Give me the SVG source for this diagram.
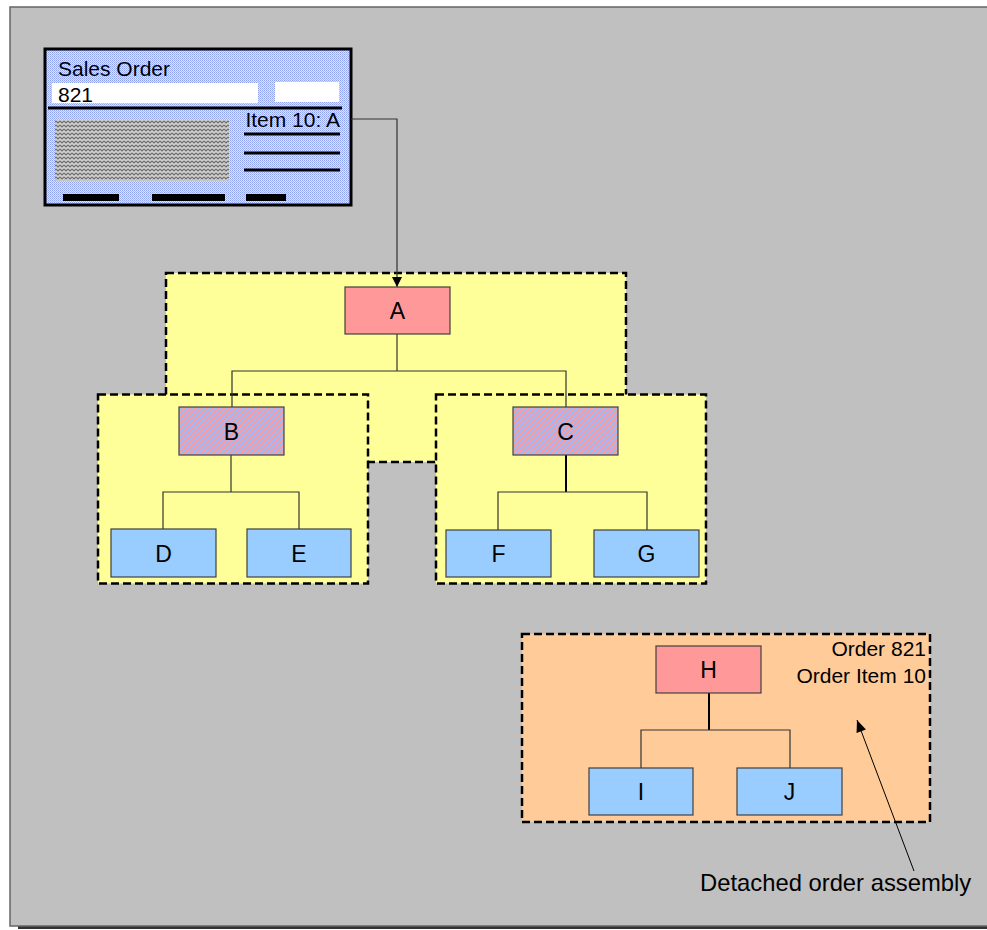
<svg xmlns="http://www.w3.org/2000/svg" width="987" height="930" viewBox="0 0 987 930">
<style>
text{font-family:"Liberation Sans",Arial,sans-serif;fill:#000}
.lbl{font-size:21px}
.nl{font-size:23px;text-anchor:middle}
.node{stroke:#404040;stroke-width:1.2}
.blue{fill:#99ccff}
.pink{fill:#ff9999}
.hatch{fill:url(#stripes)}
.cont{stroke:#000;stroke-width:2.5;stroke-dasharray:8 4}
.conn{fill:none;stroke:#333;stroke-width:1.2}
.thick{stroke:#000;stroke-width:2}
.bar{fill:#000}
</style>
<defs>
<pattern id="stripes" width="4" height="4" patternUnits="userSpaceOnUse" patternTransform="rotate(45)">
<rect width="4" height="4" fill="#ff9999"/>
<rect width="2" height="4" fill="#99bbff"/>
</pattern>
<pattern id="dots" width="2" height="2" patternUnits="userSpaceOnUse">
<rect width="2" height="2" fill="#dde4ff"/>
<rect width="1" height="1" fill="#8fa3f0"/>
<rect x="1" y="1" width="1" height="1" fill="#a8b8f5"/>
</pattern>
<pattern id="zig" width="4" height="4" patternUnits="userSpaceOnUse">
<rect width="4" height="4" fill="#cfcfcf"/>
<path d="M0,1 L2,3 L4,1" fill="none" stroke="#6e6e6e" stroke-width="1.1"/>
</pattern>
<marker id="arr" viewBox="0 0 10 10" refX="10" refY="5" markerWidth="10" markerHeight="10" markerUnits="userSpaceOnUse" orient="auto">
<path d="M0,0 L10,5 L0,10 z" fill="#000"/>
</marker>
<marker id="arr2" viewBox="0 0 12 10" refX="12" refY="5" markerWidth="13" markerHeight="10" markerUnits="userSpaceOnUse" orient="auto">
<path d="M0,0 L12,5 L0,10 z" fill="#000"/>
</marker>
</defs>

<!-- background panel -->
<rect x="18" y="14" width="980" height="915" fill="#333"/>
<rect x="10" y="7" width="990" height="919" fill="#c0c0c0" stroke="#666" stroke-width="1.5"/>

<!-- sales order form -->
<g id="sales-order">
<rect x="45" y="49" width="306" height="156" fill="url(#dots)" stroke="#000" stroke-width="3"/>
<text class="lbl" x="58" y="76">Sales Order</text>
<rect x="52" y="83" width="206" height="20" fill="#fff"/>
<rect x="275" y="82" width="64" height="20" fill="#fff"/>
<text class="lbl" x="58" y="101.5">821</text>
<rect x="48" y="106.5" width="294" height="3" fill="#000"/>
<rect x="55" y="120" width="174" height="61" fill="url(#zig)"/>
<text class="lbl" x="340" y="127" text-anchor="end">Item 10: A</text>
<rect x="244" y="132.5" width="96" height="3" fill="#000"/>
<rect x="244" y="151.5" width="96" height="3" fill="#000"/>
<rect x="244" y="168.5" width="96" height="3" fill="#000"/>
<rect class="bar" x="63" y="194" width="56" height="7"/>
<rect class="bar" x="152" y="194" width="73" height="7"/>
<rect class="bar" x="246" y="194" width="40" height="7"/>
</g>

<!-- containers -->
<g id="group-A">
<rect class="cont" x="166" y="273" width="460" height="189" fill="#ffff99"/>
</g>
<g id="group-B">
<rect class="cont" x="98" y="394.5" width="270" height="189" fill="#ffff99"/>
</g>
<g id="group-C">
<rect class="cont" x="436" y="394.5" width="270" height="189" fill="#ffff99"/>
</g>
<g id="group-H">
<rect class="cont" x="522" y="634" width="408" height="188" fill="#ffcc99"/>
<text x="926" y="656" font-size="21" text-anchor="end">Order 821</text>
<text x="926" y="683" font-size="21" text-anchor="end">Order Item 10</text>
</g>

<!-- connectors -->
<g id="connectors">
<polyline class="conn" points="351,119 397,119 397,287" stroke="#000" marker-end="url(#arr)"/>
<polyline class="conn" points="397,334 397,371"/>
<polyline class="conn" points="232,407 232,371 566,371 566,407"/>
<polyline class="conn" points="231,455 231,492"/>
<polyline class="conn" points="163,529 163,492 299,492 299,529"/>
<polyline class="conn thick" points="566,455 566,492"/>
<polyline class="conn" points="498,530 498,492 647,492 647,530"/>
<polyline class="conn thick" points="709,693 709,730"/>
<polyline class="conn" points="641,768 641,730 790,730 790,768"/>
<line x1="914" y1="871" x2="857" y2="720" stroke="#000" stroke-width="1" marker-end="url(#arr2)"/>
</g>

<!-- nodes -->
<g id="node-A"><rect class="node pink" x="345" y="287" width="105" height="47"/><text class="nl" x="397.5" y="319">A</text></g>
<g id="node-B"><rect class="node hatch" x="179" y="407" width="105" height="48"/><text class="nl" x="231.5" y="439.5">B</text></g>
<g id="node-C"><rect class="node hatch" x="513" y="407" width="105" height="48"/><text class="nl" x="565.5" y="439.5">C</text></g>
<g id="node-D"><rect class="node blue" x="111" y="529" width="105" height="48"/><text class="nl" x="163.5" y="561.5">D</text></g>
<g id="node-E"><rect class="node blue" x="247" y="529" width="104" height="48"/><text class="nl" x="299" y="561.5">E</text></g>
<g id="node-F"><rect class="node blue" x="446" y="530" width="105" height="47"/><text class="nl" x="498.5" y="561.5">F</text></g>
<g id="node-G"><rect class="node blue" x="594" y="530" width="105" height="47"/><text class="nl" x="646.5" y="561.5">G</text></g>
<g id="node-H"><rect class="node pink" x="656" y="646" width="105" height="47"/><text class="nl" x="708.5" y="678">H</text></g>
<g id="node-I"><rect class="node blue" x="589" y="768" width="104" height="47"/><text class="nl" x="641" y="800">I</text></g>
<g id="node-J"><rect class="node blue" x="737" y="768" width="105" height="47"/><text class="nl" x="789.5" y="800">J</text></g>

<text id="callout" x="700" y="891" font-size="23.8">Detached order assembly</text>
</svg>
